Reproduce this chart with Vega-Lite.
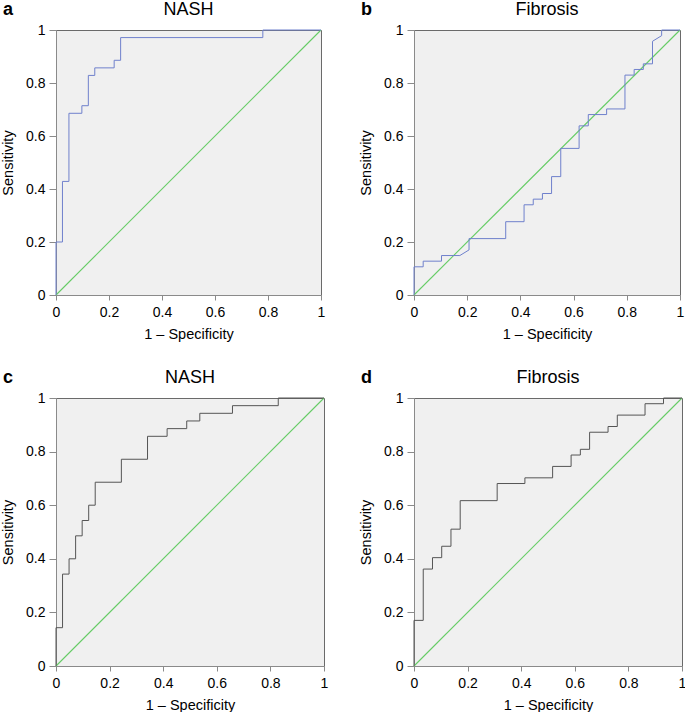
{
  "$schema": "https://vega.github.io/schema/vega-lite/v6.json",
  "padding": {"left": 0, "top": 0, "right": 0, "bottom": 0},
  "background": "white",
  "config": {
    "font": "Liberation Sans",
    "view": {"fill": "#f0f0f0", "stroke": "#6a6a6a", "strokeWidth": 1},
    "axis": {
      "grid": false, "domainColor": "#8a8a8a", "tickColor": "#8a8a8a",
      "labelFont": "Liberation Sans", "labelFontSize": 14, "labelColor": "#000",
      "titleFont": "Liberation Sans", "titleFontSize": 14.5, "titleFontWeight": "normal", "titleColor": "#000",
      "values": [0, 0.2, 0.4, 0.6, 0.8, 1], "format": "~g", "labelFlush": false, "labelOverlap": false
    },
    "axisX": {"tickSize": 5, "labelPadding": 5, "titlePadding": 8},
    "axisY": {"tickSize": 7, "labelPadding": 4, "titlePadding": 10},
    "title": {"font": "Liberation Sans", "fontSize": 18, "fontWeight": "normal", "color": "#000", "offset": 4},
    "line": {"strokeWidth": 1}
  },
  "spacing": 27,
  "vconcat": [
    {
      "spacing": 32,
      "hconcat": [
        {
          "title": {"text": "a", "anchor": "start", "frame": "bounds", "fontWeight": "bold", "fontSize": 18, "dy": 22, "dx": 3},
          "vconcat": [{
            "width": 265, "height": 265,
            "title": {"text": "NASH"},
            "encoding": {
              "x": {"field": "x", "type": "quantitative", "scale": {"domain": [0, 1]}, "title": "1 – Specificity"},
              "y": {"field": "y", "type": "quantitative", "scale": {"domain": [0, 1]}, "title": "Sensitivity"}
            },
            "layer": [
              {"data": {"values": [{"x": 0, "y": 0, "x2": 1, "y2": 1}]}, "mark": {"type": "rule", "color": "#66cc66", "strokeWidth": 1.1},
               "encoding": {"x2": {"field": "x2"}, "y2": {"field": "y2"}}},
              {"data": {"values": [
                {"i":0,"x":0,"y":0},{"i":1,"x":0,"y":0.2},{"i":2,"x":0.0244,"y":0.2},{"i":3,"x":0.0244,"y":0.4286},
                {"i":4,"x":0.0488,"y":0.4286},{"i":5,"x":0.0488,"y":0.6857},{"i":6,"x":0.0976,"y":0.6857},{"i":7,"x":0.0976,"y":0.7143},
                {"i":8,"x":0.122,"y":0.7143},{"i":9,"x":0.122,"y":0.8286},{"i":10,"x":0.1463,"y":0.8286},{"i":11,"x":0.1463,"y":0.8571},
                {"i":12,"x":0.2195,"y":0.8571},{"i":13,"x":0.2195,"y":0.8857},{"i":14,"x":0.2439,"y":0.8857},{"i":15,"x":0.2439,"y":0.9714},
                {"i":16,"x":0.7805,"y":0.9714},{"i":17,"x":0.7805,"y":1},{"i":18,"x":1,"y":1}
              ]}, "mark": {"type": "line", "color": "#6f80cc", "strokeWidth": 1},
               "encoding": {"order": {"field": "i", "type": "quantitative"}}}
            ]
          }]
        },
        {
          "title": {"text": "b", "anchor": "start", "frame": "bounds", "fontWeight": "bold", "fontSize": 18, "dy": 22, "dx": 3},
          "vconcat": [{
            "width": 266, "height": 265,
            "title": {"text": "Fibrosis"},
            "encoding": {
              "x": {"field": "x", "type": "quantitative", "scale": {"domain": [0, 1]}, "title": "1 – Specificity"},
              "y": {"field": "y", "type": "quantitative", "scale": {"domain": [0, 1]}, "title": "Sensitivity"}
            },
            "layer": [
              {"data": {"values": [{"x": 0, "y": 0, "x2": 1, "y2": 1}]}, "mark": {"type": "rule", "color": "#66cc66", "strokeWidth": 1.1},
               "encoding": {"x2": {"field": "x2"}, "y2": {"field": "y2"}}},
              {"data": {"values": [
                {"i":0,"x":0,"y":0},{"i":1,"x":0,"y":0.1064},{"i":2,"x":0.0345,"y":0.1064},{"i":3,"x":0.0345,"y":0.1277},
                {"i":4,"x":0.1034,"y":0.1277},{"i":5,"x":0.1034,"y":0.1489},{"i":6,"x":0.1724,"y":0.1489},{"i":7,"x":0.2069,"y":0.1702},
                {"i":8,"x":0.2069,"y":0.2128},{"i":9,"x":0.3448,"y":0.2128},{"i":10,"x":0.3448,"y":0.2766},{"i":11,"x":0.4138,"y":0.2766},
                {"i":12,"x":0.4138,"y":0.3404},{"i":13,"x":0.4483,"y":0.3404},{"i":14,"x":0.4483,"y":0.3617},{"i":15,"x":0.4828,"y":0.3617},
                {"i":16,"x":0.4828,"y":0.383},{"i":17,"x":0.5172,"y":0.383},{"i":18,"x":0.5172,"y":0.4468},{"i":19,"x":0.5517,"y":0.4468},
                {"i":20,"x":0.5517,"y":0.5532},{"i":21,"x":0.6207,"y":0.5532},{"i":22,"x":0.6207,"y":0.6383},{"i":23,"x":0.6552,"y":0.6383},
                {"i":24,"x":0.6552,"y":0.6809},{"i":25,"x":0.7241,"y":0.6809},{"i":26,"x":0.7241,"y":0.7021},{"i":27,"x":0.7931,"y":0.7021},
                {"i":28,"x":0.7931,"y":0.8298},{"i":29,"x":0.8276,"y":0.8298},{"i":30,"x":0.8276,"y":0.8511},{"i":31,"x":0.8621,"y":0.8511},
                {"i":32,"x":0.8621,"y":0.8723},{"i":33,"x":0.8966,"y":0.8723},{"i":34,"x":0.8966,"y":0.9574},{"i":35,"x":0.931,"y":0.9787},
                {"i":36,"x":0.931,"y":1},{"i":37,"x":1,"y":1}
              ]}, "mark": {"type": "line", "color": "#6f80cc", "strokeWidth": 1},
               "encoding": {"order": {"field": "i", "type": "quantitative"}}}
            ]
          }]
        }
      ]
    },
    {
      "spacing": 29,
      "hconcat": [
        {
          "title": {"text": "c", "anchor": "start", "frame": "bounds", "fontWeight": "bold", "fontSize": 18, "dy": 22, "dx": 3},
          "vconcat": [{
            "width": 268, "height": 268,
            "title": {"text": "NASH"},
            "encoding": {
              "x": {"field": "x", "type": "quantitative", "scale": {"domain": [0, 1]}, "title": "1 – Specificity"},
              "y": {"field": "y", "type": "quantitative", "scale": {"domain": [0, 1]}, "title": "Sensitivity"}
            },
            "layer": [
              {"data": {"values": [{"x": 0, "y": 0, "x2": 1, "y2": 1}]}, "mark": {"type": "rule", "color": "#66cc66", "strokeWidth": 1.1},
               "encoding": {"x2": {"field": "x2"}, "y2": {"field": "y2"}}},
              {"data": {"values": [
                {"i":0,"x":0,"y":0},{"i":1,"x":0,"y":0.1429},{"i":2,"x":0.0244,"y":0.1429},{"i":3,"x":0.0244,"y":0.3429},
                {"i":4,"x":0.0488,"y":0.3429},{"i":5,"x":0.0488,"y":0.4},{"i":6,"x":0.0732,"y":0.4},{"i":7,"x":0.0732,"y":0.4857},
                {"i":8,"x":0.0976,"y":0.4857},{"i":9,"x":0.0976,"y":0.5429},{"i":10,"x":0.122,"y":0.5429},{"i":11,"x":0.122,"y":0.6},
                {"i":12,"x":0.1463,"y":0.6},{"i":13,"x":0.1463,"y":0.6857},{"i":14,"x":0.2439,"y":0.6857},{"i":15,"x":0.2439,"y":0.7714},
                {"i":16,"x":0.3415,"y":0.7714},{"i":17,"x":0.3415,"y":0.8571},{"i":18,"x":0.4146,"y":0.8571},{"i":19,"x":0.4146,"y":0.8857},
                {"i":20,"x":0.4878,"y":0.8857},{"i":21,"x":0.4878,"y":0.9143},{"i":22,"x":0.5366,"y":0.9143},{"i":23,"x":0.5366,"y":0.9429},
                {"i":24,"x":0.6585,"y":0.9429},{"i":25,"x":0.6585,"y":0.9714},{"i":26,"x":0.8293,"y":0.9714},{"i":27,"x":0.8293,"y":1},
                {"i":28,"x":1,"y":1}
              ]}, "mark": {"type": "line", "color": "#555555", "strokeWidth": 1},
               "encoding": {"order": {"field": "i", "type": "quantitative"}}}
            ]
          }]
        },
        {
          "title": {"text": "d", "anchor": "start", "frame": "bounds", "fontWeight": "bold", "fontSize": 18, "dy": 22, "dx": 3},
          "vconcat": [{
            "width": 268, "height": 268,
            "title": {"text": "Fibrosis"},
            "encoding": {
              "x": {"field": "x", "type": "quantitative", "scale": {"domain": [0, 1]}, "title": "1 – Specificity"},
              "y": {"field": "y", "type": "quantitative", "scale": {"domain": [0, 1]}, "title": "Sensitivity"}
            },
            "layer": [
              {"data": {"values": [{"x": 0, "y": 0, "x2": 1, "y2": 1}]}, "mark": {"type": "rule", "color": "#66cc66", "strokeWidth": 1.1},
               "encoding": {"x2": {"field": "x2"}, "y2": {"field": "y2"}}},
              {"data": {"values": [
                {"i":0,"x":0,"y":0},{"i":1,"x":0,"y":0.1702},{"i":2,"x":0.0345,"y":0.1702},{"i":3,"x":0.0345,"y":0.3617},
                {"i":4,"x":0.069,"y":0.3617},{"i":5,"x":0.069,"y":0.4043},{"i":6,"x":0.1034,"y":0.4043},{"i":7,"x":0.1034,"y":0.4468},
                {"i":8,"x":0.1379,"y":0.4468},{"i":9,"x":0.1379,"y":0.5106},{"i":10,"x":0.1724,"y":0.5106},{"i":11,"x":0.1724,"y":0.617},
                {"i":12,"x":0.3103,"y":0.617},{"i":13,"x":0.3103,"y":0.6809},{"i":14,"x":0.4138,"y":0.6809},{"i":15,"x":0.4138,"y":0.7021},
                {"i":16,"x":0.5172,"y":0.7021},{"i":17,"x":0.5172,"y":0.7447},{"i":18,"x":0.5862,"y":0.7447},{"i":19,"x":0.5862,"y":0.7872},
                {"i":20,"x":0.6207,"y":0.7872},{"i":21,"x":0.6207,"y":0.8085},{"i":22,"x":0.6552,"y":0.8085},{"i":23,"x":0.6552,"y":0.8723},
                {"i":24,"x":0.7241,"y":0.8723},{"i":25,"x":0.7241,"y":0.8936},{"i":26,"x":0.7586,"y":0.8936},{"i":27,"x":0.7586,"y":0.9362},
                {"i":28,"x":0.8621,"y":0.9362},{"i":29,"x":0.8621,"y":0.9787},{"i":30,"x":0.931,"y":0.9787},{"i":31,"x":0.931,"y":1},
                {"i":32,"x":1,"y":1}
              ]}, "mark": {"type": "line", "color": "#555555", "strokeWidth": 1},
               "encoding": {"order": {"field": "i", "type": "quantitative"}}}
            ]
          }]
        }
      ]
    }
  ]
}
